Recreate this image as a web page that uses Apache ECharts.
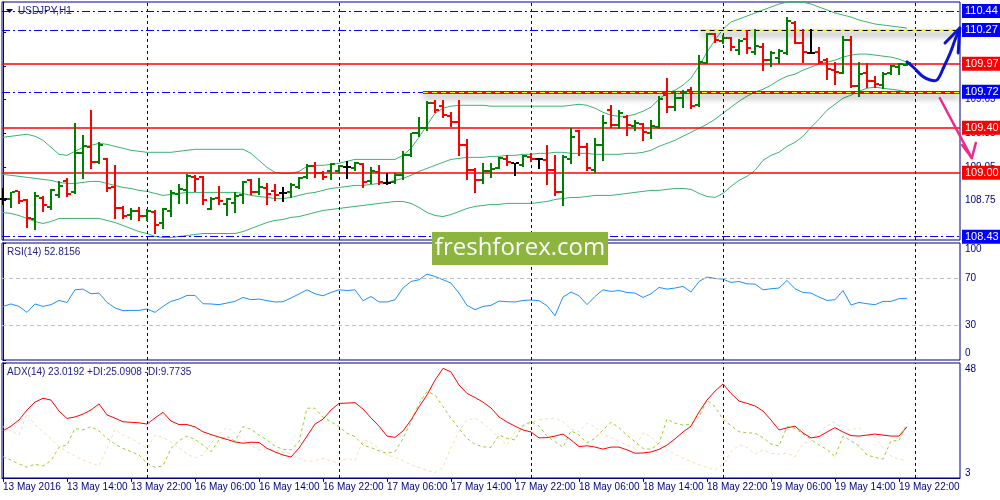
<!DOCTYPE html>
<html><head><meta charset="utf-8">
<script src="https://cdn.jsdelivr.net/npm/echarts@6/dist/echarts.min.js"></script>
<style>html,body{margin:0;padding:0;background:#fff}#c{width:1000px;height:500px}</style>
</head><body><div id="c"></div>
<script>
// ---------------- data ----------------
const tickIndex = [0,8,16,24,32,40,48,56,64,72,80,88,96,104,112];
const tickLabels = ['13 May 2016','13 May 14:00','13 May 22:00','16 May 06:00','16 May 14:00','16 May 22:00','17 May 06:00','17 May 14:00','17 May 22:00','18 May 06:00','18 May 14:00','18 May 22:00','19 May 06:00','19 May 14:00','19 May 22:00'];
const daySeparators = [18,42,66,90,114];

const open = [108.761,108.761,108.833,108.752,108.583,108.770,108.690,108.797,108.922,108.824,
109.172,109.226,109.092,109.118,108.868,108.681,108.627,108.654,108.618,108.645,
108.547,108.654,108.806,108.842,108.958,108.958,108.672,108.770,108.717,108.726,
108.797,108.931,108.824,108.859,108.833,108.815,108.824,108.868,108.958,109.056,
108.993,109.011,109.011,109.047,109.038,109.074,108.922,109.002,108.904,108.913,
108.976,109.154,109.351,109.395,109.618,109.592,109.502,109.449,109.243,109.020,
108.931,109.011,109.038,109.118,109.083,109.065,109.136,109.118,109.109,109.020,
108.824,109.118,109.368,109.226,109.020,109.243,109.556,109.422,109.493,109.413,
109.431,109.351,109.404,109.690,109.583,109.663,109.734,109.600,109.975,110.234,
110.172,110.199,110.092,110.190,110.074,110.118,110.002,110.020,110.065,110.333,
110.154,110.065,110.074,110.002,109.913,109.886,110.181,109.770,109.886,109.815,
109.779,109.886,109.940,109.958];
const high = [108.859,108.824,108.833,108.761,108.824,108.788,108.851,108.922,108.949,109.440,
109.333,109.556,109.270,109.127,109.065,108.699,108.681,108.690,108.672,108.663,
108.681,108.842,108.895,108.984,108.976,108.967,108.779,108.877,108.770,108.824,
108.922,108.940,108.949,108.904,108.895,108.868,108.904,108.958,109.074,109.092,
109.011,109.083,109.065,109.101,109.092,109.083,109.047,109.065,108.993,108.993,
109.190,109.351,109.493,109.636,109.645,109.645,109.538,109.645,109.297,109.038,
109.083,109.083,109.136,109.154,109.083,109.154,109.172,109.127,109.243,109.154,
109.154,109.395,109.377,109.261,109.306,109.511,109.600,109.556,109.511,109.467,
109.440,109.467,109.681,109.842,109.717,109.734,109.761,110.047,110.243,110.243,
110.226,110.208,110.190,110.270,110.279,110.154,110.083,110.101,110.386,110.351,
110.279,110.279,110.118,110.020,109.984,110.217,110.217,109.984,109.975,109.859,
109.895,109.958,109.975,109.975];
const low = [108.717,108.690,108.734,108.520,108.502,108.654,108.672,108.779,108.788,108.815,
108.949,109.038,109.083,108.833,108.592,108.592,108.583,108.574,108.574,108.458,
108.511,108.618,108.726,108.734,108.833,108.717,108.672,108.717,108.627,108.645,
108.734,108.806,108.806,108.717,108.752,108.743,108.779,108.859,108.949,108.958,
108.940,108.940,109.002,108.949,109.020,108.868,108.904,108.895,108.895,108.904,
108.940,109.145,109.324,109.377,109.538,109.493,109.413,109.154,108.940,108.824,
108.904,108.958,109.038,109.065,108.976,109.056,109.101,109.038,108.895,108.797,
108.708,109.083,109.154,109.020,109.002,109.109,109.404,109.395,109.333,109.377,
109.288,109.306,109.395,109.538,109.556,109.583,109.574,109.592,109.975,110.163,
110.154,110.092,110.056,110.065,110.056,109.913,109.949,109.975,110.056,110.154,
109.984,110.065,109.975,109.833,109.788,109.886,109.761,109.681,109.761,109.761,
109.752,109.877,109.877,109.958];
const close = [108.761,108.824,108.743,108.592,108.788,108.708,108.842,108.877,108.806,109.172,
109.234,109.092,109.243,108.859,108.681,108.618,108.654,108.618,108.654,108.538,
108.672,108.815,108.851,108.967,108.940,108.752,108.761,108.743,108.761,108.788,
108.913,108.824,108.868,108.806,108.797,108.815,108.886,108.949,109.056,108.993,
108.958,109.074,109.056,109.047,109.083,108.913,109.011,108.913,108.904,108.976,
109.154,109.351,109.395,109.618,109.556,109.511,109.449,109.243,109.020,108.931,
109.011,109.029,109.127,109.092,109.083,109.145,109.118,109.118,109.020,108.824,
109.136,109.315,109.226,109.038,109.243,109.440,109.422,109.529,109.422,109.440,
109.359,109.413,109.654,109.583,109.663,109.717,109.592,109.984,110.234,110.181,
110.199,110.118,110.172,110.109,110.127,110.002,110.065,110.083,110.351,110.154,
110.074,110.065,109.984,109.922,109.895,110.181,109.770,109.877,109.815,109.788,
109.877,109.949,109.967,109.975];

const bbUpper = [109.315,109.324,109.333,109.342,109.324,109.288,109.226,109.163,109.154,109.190,
109.226,109.243,109.261,109.252,109.234,109.217,109.199,109.190,109.181,109.181,
109.181,109.181,109.190,109.199,109.208,109.208,109.208,109.208,109.208,109.208,
109.208,109.172,109.109,109.047,109.002,108.993,108.993,109.011,109.056,109.065,
109.065,109.074,109.083,109.101,109.118,109.118,109.118,109.118,109.118,109.118,
109.154,109.217,109.315,109.422,109.529,109.574,109.592,109.600,109.600,109.600,
109.600,109.592,109.592,109.592,109.592,109.592,109.592,109.592,109.592,109.592,
109.592,109.600,109.609,109.600,109.574,109.538,109.511,109.502,109.502,109.520,
109.547,109.583,109.654,109.708,109.734,109.779,109.842,109.949,110.074,110.181,
110.279,110.342,110.368,110.395,110.422,110.449,110.475,110.502,110.518,110.518,
110.518,110.502,110.475,110.449,110.422,110.404,110.386,110.359,110.342,110.324,
110.315,110.306,110.297,110.288];
const bbMiddle = [108.984,108.976,108.967,108.958,108.949,108.940,108.931,108.913,108.904,108.904,
108.913,108.922,108.922,108.904,108.886,108.868,108.859,108.842,108.833,108.815,
108.797,108.806,108.815,108.824,108.824,108.824,108.824,108.824,108.824,108.824,
108.815,108.797,108.788,108.779,108.770,108.770,108.779,108.797,108.815,108.824,
108.842,108.859,108.868,108.877,108.886,108.886,108.895,108.904,108.913,108.931,
108.949,108.976,109.011,109.038,109.065,109.092,109.118,109.127,109.136,109.136,
109.136,109.145,109.145,109.154,109.154,109.163,109.163,109.172,109.172,109.181,
109.181,109.172,109.172,109.172,109.163,109.163,109.163,109.163,109.172,109.172,
109.181,109.199,109.234,109.261,109.288,109.324,109.359,109.395,109.431,109.475,
109.529,109.583,109.636,109.681,109.717,109.743,109.779,109.824,109.859,109.877,
109.913,109.940,109.967,109.984,110.002,110.029,110.047,110.056,110.056,110.047,
110.038,110.029,110.011,109.984];
const bbLower = [108.645,108.636,108.618,108.592,108.565,108.547,108.565,108.592,108.592,108.592,
108.592,108.592,108.592,108.574,108.556,108.529,108.502,108.475,108.458,108.431,
108.422,108.422,108.431,108.440,108.449,108.458,108.458,108.458,108.458,108.458,
108.475,108.502,108.529,108.556,108.574,108.583,108.601,108.609,108.627,108.645,
108.663,108.672,108.681,108.690,108.699,108.708,108.717,108.726,108.734,108.743,
108.743,108.726,108.690,108.645,108.618,108.609,108.627,108.654,108.681,108.699,
108.708,108.717,108.717,108.726,108.726,108.726,108.726,108.734,108.743,108.761,
108.770,108.779,108.779,108.788,108.797,108.797,108.797,108.806,108.815,108.824,
108.833,108.842,108.842,108.851,108.859,108.859,108.851,108.815,108.788,108.779,
108.815,108.877,108.931,108.967,109.020,109.109,109.154,109.181,109.234,109.270,
109.324,109.404,109.475,109.556,109.609,109.663,109.690,109.725,109.752,109.761,
109.752,109.743,109.734,109.717];

const rsi = [45.8,47.9,45.8,40.7,47.9,45.8,47.3,50.9,49.2,60.0,
60.6,56.6,57.2,49.2,44.5,42.2,42.4,42.4,43.6,40.7,
45.8,50.1,52.1,55.2,55.2,48.1,47.9,47.3,48.7,50.1,
53.5,51.5,52.1,50.7,49.6,49.8,53.0,56.4,60.0,56.6,
54.9,57.7,60.0,59.4,60.0,50.7,54.3,49.6,49.6,51.5,
61.5,67.1,68.6,73.4,71.4,68.6,65.7,57.2,46.7,43.0,
45.8,46.7,50.4,49.8,49.6,50.9,51.3,50.7,46.4,37.9,
53.8,58.1,54.9,47.3,54.3,60.0,58.6,59.4,57.7,57.2,
53.5,56.6,62.0,60.6,61.5,62.9,58.1,67.1,70.9,69.7,
69.1,66.3,67.1,65.1,64.9,60.0,60.9,61.5,68.0,60.9,
57.7,57.2,53.8,50.9,51.5,59.4,47.0,49.2,48.1,47.3,
50.1,50.1,52.4,52.8156];
const adx = [21.5,23.3,25.7,29.6,32.7,34.2,33.5,29.2,26.3,26.9,
28.0,29.6,32.0,27.7,26.4,25.0,24.8,24.6,24.1,26.5,
28.7,25.3,23.9,23.9,23.0,21.1,20.0,19.0,18.1,17.1,
16.6,17.0,16.9,14.6,13.2,12.0,11.2,14.7,19.4,24.1,
26.0,29.6,32.2,32.3,32.5,30.0,26.5,23.3,19.4,18.9,
21.4,25.7,30.8,35.5,41.3,45.9,44.5,39.4,36.1,34.5,
32.7,30.4,26.9,24.9,23.3,21.8,21.0,18.7,18.8,19.4,
20.2,17.9,15.3,15.6,15.1,14.3,15.1,15.1,14.0,12.7,
12.8,13.2,14.2,15.9,18.3,21.0,23.3,28.8,33.5,37.0,
39.8,36.1,33.1,32.2,31.2,29.2,25.7,21.8,22.6,23.3,
20.6,18.7,19.2,21.0,22.7,21.0,19.6,19.4,19.8,20.2,
19.8,19.4,19.4,23.0192];
const plusDI = [11.3,10.0,8.5,7.2,8.4,7.7,9.8,15.0,15.9,22.4,
21.8,23.1,21.4,18.5,16.3,14.6,13.3,12.0,8.8,7.2,
7.7,14.6,17.6,19.4,18.1,15.9,13.3,17.9,19.2,17.5,
23.1,22.1,19.8,17.9,15.5,14.2,14.0,17.2,30.3,30.3,
26.8,25.0,23.1,20.5,19.2,15.9,14.9,13.6,12.7,13.3,
18.5,25.0,32.2,36.8,35.5,30.9,26.4,22.4,18.5,16.2,
15.2,15.0,19.8,18.5,17.9,23.7,25.0,23.3,19.4,17.2,
15.0,21.5,19.8,16.8,18.5,21.8,24.8,22.7,19.7,17.2,
14.6,14.2,16.6,26.1,24.4,23.7,24.1,27.0,33.5,30.9,
26.0,23.5,21.1,20.7,20.5,18.8,16.3,15.5,23.1,22.4,
20.2,18.1,15.9,14.2,11.3,19.4,17.6,15.5,12.0,11.1,
10.4,17.6,17.6,24.3];
const minusDI = [23.1,21.5,19.8,28.0,23.7,21.1,18.5,15.2,13.3,11.6,
10.0,8.8,7.7,14.6,22.1,19.8,18.5,16.6,14.6,19.8,
18.9,17.0,14.9,12.4,10.9,12.0,16.6,20.2,22.8,20.5,
18.1,15.9,14.0,14.3,14.0,13.2,12.4,10.7,9.4,9.8,
10.7,9.7,8.8,10.7,9.8,17.9,17.0,14.6,12.0,11.1,
9.8,8.1,7.2,5.9,5.1,7.2,15.2,21.1,25.7,26.4,
24.4,21.8,18.7,15.9,21.1,23.1,24.6,25.7,26.2,26.4,
25.0,22.2,21.1,24.4,23.1,19.8,18.8,17.2,15.9,14.6,
20.7,19.2,15.9,14.0,12.4,10.7,9.4,8.1,7.2,6.1,
8.1,13.3,15.9,15.0,12.4,14.0,12.7,12.3,12.7,11.3,
16.6,17.2,21.1,23.5,25.0,21.8,21.8,22.7,19.8,18.8,
15.0,11.6,10.4,9.7735];

const levels = [110.44, 110.27, 109.97, 109.72, 109.40, 109.00, 108.43];
const levelKinds = ['blue','blue','red','blue','red','red','blue'];
const zoneStarts = [87.2, 52.5];          // bar index where the highlighted zones begin
const zonePrices = [110.27, 109.72];
const priceTicks = [108.75, 109.05, 109.35, 109.65, 109.95, 110.25];
const rsiTicks = [0, 30, 70, 100];
const rsiLevels = [70, 30];
const adxTicks = [3, 48];

const forecastUp = [[113,109.986],[113.9,109.932],[114.9,109.861],[115.9,109.825],[116.75,109.825],[117.6,109.941],[118.4,110.066],[119.0,110.181],[119.6,110.288]];
const forecastUpHead = [[117.75,110.155],[119.6,110.288],[119.4,110.066]];
const forecastDown = [[117.1,109.665],[121.1,109.130]];
const forecastDownHead = [[119.9,109.246],[121.1,109.130],[121.6,109.264]];

// ---------------- styling ----------------
const NAVY = '#000080';
const FONT = '"Liberation Sans", Arial, sans-serif';
const UP = '#008000', DOWN = '#ff0000', FLAT = '#000000';
const BB = '#3cb371';
const X_MIN = -0.125, X_MAX = 119.625;
const DASHDOT = [8, 3, 2, 3];
const levelColor = {blue: '#0000ff', red: '#ff0000'};

const annotationPaths = [forecastUp, forecastUpHead, forecastDown, forecastDownHead];
const annotationStyles = [
  {color: '#0a14d8', width: 3, smooth: 0.35},
  {color: '#0a14d8', width: 3, smooth: 0},
  {color: '#f0288c', width: 2.5, smooth: 0},
  {color: '#f0288c', width: 2.5, smooth: 0}
];

const pairs = a => a.map((v, i) => [i, v]);
const ohlc = open.map((o, i) => [i, o, high[i], low[i], close[i]]);

function renderBar(params, api) {
  const i = api.value(0), o = api.value(1), h = api.value(2), l = api.value(3), c = api.value(4);
  const pH = api.coord([i, h]), pL = api.coord([i, l]), pO = api.coord([i, o]), pC = api.coord([i, c]);
  const col = c > o ? UP : (c < o ? DOWN : FLAT);
  const x = Math.round(pH[0]);
  const yH = Math.round(pH[1]), yL = Math.round(pL[1]), yO = Math.round(pO[1]), yC = Math.round(pC[1]);
  return {type: 'group', children: [
    {type: 'rect', shape: {x: x - 1, y: yH, width: 2, height: Math.max(1, yL - yH + 1)}, style: {fill: col}},
    {type: 'rect', shape: {x: x - 4, y: yO - 1, width: 3, height: 2}, style: {fill: col}},
    {type: 'rect', shape: {x: x + 1, y: yC - 1, width: 3, height: 2}, style: {fill: col}}
  ]};
}

function renderAnnotation(params, api) {
  const k = params.dataIndex;
  const pts = annotationPaths[k].map(p => api.coord(p));
  const s = annotationStyles[k];
  return {type: 'polyline', shape: {points: pts, smooth: s.smooth},
          style: {stroke: s.color, lineWidth: s.width, fill: null, lineCap: 'round', lineJoin: 'round'}};
}

const sepStyle = {color: NAVY, type: [3, 3], width: 1};
const sepLines = daySeparators.map(v => ({xAxis: v}));

const levelData = levels.map((p, k) => {
  const kind = levelKinds[k];
  const col = levelColor[kind];
  return {
    yAxis: p,
    lineStyle: {color: col, width: kind === 'blue' ? 1 : 1.5, type: kind === 'blue' ? DASHDOT : 'solid', opacity: 1},
    label: {show: true, position: 'end', distance: 2, formatter: p.toFixed(2), color: '#fff',
            backgroundColor: col, padding: [2, 3, 1, 3], fontSize: 11, fontFamily: FONT}
  };
});
const zoneBase = ['#ffff00', '#ff0000'];
const zoneDash = ['#000000', '#ffff00'];
const zoneData = [];
zoneStarts.forEach((s, k) => {
  const base = {color: zoneBase[k], width: 3, type: 'solid', shadowColor: 'rgba(0,0,0,0.4)', shadowBlur: 6, shadowOffsetY: 4};
  zoneData.push([{coord: [s, zonePrices[k]], lineStyle: base, label: {show: false}}, {coord: [X_MAX, zonePrices[k]], lineStyle: base}]);
  const d = {color: zoneDash[k], width: 1, type: [5, 4]};
  zoneData.push([{coord: [s, zonePrices[k]], lineStyle: d, label: {show: false}}, {coord: [X_MAX, zonePrices[k]], lineStyle: d}]);
});

function xAxisFor(k) {
  const base = {type: 'value', gridIndex: k, min: X_MIN, max: X_MAX, splitLine: {show: false}};
  if (k < 2) return Object.assign(base, {axisLine: {show: false}, axisTick: {show: false}, axisLabel: {show: false}});
  return Object.assign(base, {
    axisLine: {show: true, onZero: false, lineStyle: {color: NAVY}},
    axisTick: {show: true, customValues: tickIndex, length: 4, lineStyle: {color: NAVY}},
    axisLabel: {customValues: tickIndex, align: 'left', margin: 4, color: NAVY, fontSize: 10, fontFamily: FONT,
                formatter: v => tickLabels[tickIndex.indexOf(v)] || ''}
  });
}

const richEdge = {
  t: {padding: [12, 0, 0, 0], color: NAVY, fontSize: 10, fontFamily: FONT},
  b: {padding: [0, 0, 13, 0], color: NAVY, fontSize: 10, fontFamily: FONT},
  b2: {padding: [0, 0, 10, 0], color: NAVY, fontSize: 10, fontFamily: FONT}
};

const option = {
  animation: false,
  backgroundColor: '#ffffff',
  grid: [
    {left: 2, top: 2, width: 958, height: 238, show: true, borderColor: NAVY, borderWidth: 1},
    {left: 2, top: 243, width: 958, height: 117, show: true, borderColor: NAVY, borderWidth: 1},
    {left: 2, top: 363, width: 958, height: 115, show: true, borderColor: NAVY, borderWidth: 1}
  ],
  xAxis: [xAxisFor(0), xAxisFor(1), xAxisFor(2)],
  yAxis: [
    {type: 'value', gridIndex: 0, position: 'right', min: 108.40, max: 110.52, splitLine: {show: false},
     axisLine: {show: true, lineStyle: {color: NAVY}},
     axisTick: {show: true, customValues: priceTicks, length: 3, lineStyle: {color: NAVY}},
     axisLabel: {customValues: priceTicks, formatter: v => v.toFixed(2), color: NAVY, fontSize: 10, fontFamily: FONT, margin: 5}},
    {type: 'value', gridIndex: 1, position: 'right', min: 0, max: 100, splitLine: {show: false},
     axisLine: {show: true, lineStyle: {color: NAVY}},
     axisTick: {show: true, customValues: rsiTicks, length: 3, lineStyle: {color: NAVY}},
     axisLabel: {customValues: rsiTicks, color: NAVY, fontSize: 10, fontFamily: FONT, margin: 5, rich: richEdge,
                 formatter: v => v === rsiTicks[rsiTicks.length - 1] ? '{t|' + v + '}' : (v === rsiTicks[0] ? '{b|' + v + '}' : String(v))}},
    {type: 'value', gridIndex: 2, position: 'right', min: 3, max: 48, splitLine: {show: false},
     axisLine: {show: true, lineStyle: {color: NAVY}},
     axisTick: {show: true, customValues: adxTicks, length: 3, lineStyle: {color: NAVY}},
     axisLabel: {customValues: adxTicks, color: NAVY, fontSize: 10, fontFamily: FONT, margin: 5, rich: richEdge,
                 formatter: v => v === adxTicks[1] ? '{t|' + v + '}' : '{b2|' + v + '}'}}
  ],
  series: [
    {type: 'line', xAxisIndex: 0, yAxisIndex: 0, data: pairs(bbUpper), symbol: 'none', silent: true, z: 2,
     lineStyle: {color: BB, width: 1},
     markLine: {silent: true, symbol: 'none', label: {show: false}, lineStyle: sepStyle, data: sepLines}},
    {type: 'line', xAxisIndex: 0, yAxisIndex: 0, data: pairs(bbMiddle), symbol: 'none', silent: true, z: 2,
     lineStyle: {color: BB, width: 1},
     markLine: {silent: true, symbol: 'none', data: levelData}},
    {type: 'line', xAxisIndex: 0, yAxisIndex: 0, data: pairs(bbLower), symbol: 'none', silent: true, z: 2,
     lineStyle: {color: BB, width: 1},
     markLine: {silent: true, symbol: 'none', label: {show: false}, data: zoneData}},
    {type: 'custom', xAxisIndex: 0, yAxisIndex: 0, data: ohlc, renderItem: renderBar, silent: true, z: 5,
     encode: {x: 0, y: [1, 2, 3, 4]}},
    {type: 'custom', xAxisIndex: 0, yAxisIndex: 0, data: annotationPaths.map(p => p[0]), renderItem: renderAnnotation,
     clip: false, silent: true, z: 9, encode: {x: 0, y: 1}},
    {type: 'line', xAxisIndex: 1, yAxisIndex: 1, data: pairs(rsi), symbol: 'none', silent: true, z: 3,
     lineStyle: {color: '#1e90ff', width: 1},
     markLine: {silent: true, symbol: 'none', label: {show: false},
       data: rsiLevels.map(v => ({yAxis: v, lineStyle: {color: '#c0c0c0', type: [4, 3], width: 1}}))
             .concat(sepLines.map(s => Object.assign({lineStyle: sepStyle}, s)))}},
    {type: 'line', xAxisIndex: 2, yAxisIndex: 2, data: pairs(minusDI), symbol: 'none', silent: true, z: 2,
     lineStyle: {color: '#f5deb3', width: 1, type: [3, 3]}},
    {type: 'line', xAxisIndex: 2, yAxisIndex: 2, data: pairs(plusDI), symbol: 'none', silent: true, z: 3,
     lineStyle: {color: '#9acd32', width: 1, type: [3, 3]}},
    {type: 'line', xAxisIndex: 2, yAxisIndex: 2, data: pairs(adx), symbol: 'none', silent: true, z: 4,
     lineStyle: {color: '#ff0000', width: 1},
     markLine: {silent: true, symbol: 'none', label: {show: false}, lineStyle: sepStyle, data: sepLines}}
  ],
  graphic: [
    {type: 'polygon', shape: {points: [[6, 9], [13, 9], [9.5, 13]]}, style: {fill: NAVY}, z: 50},
    {type: 'text', x: 18, y: 11, style: {text: 'USDJPY,H1', fill: '#20208a', font: '10px ' + FONT, verticalAlign: 'middle'}, z: 50},
    {type: 'text', x: 7, y: 252, style: {text: 'RSI(14) ' + rsi[rsi.length - 1].toFixed(4), fill: '#20208a', font: '10px ' + FONT, verticalAlign: 'middle'}, z: 50},
    {type: 'text', x: 7, y: 372, style: {text: 'ADX(14) ' + adx[adx.length - 1].toFixed(4) + ' +DI:25.0908 -DI:' + minusDI[minusDI.length - 1].toFixed(4), fill: '#20208a', font: '10px ' + FONT, verticalAlign: 'middle'}, z: 50},
    {type: 'rect', shape: {x: 432, y: 232, width: 176, height: 33}, style: {fill: '#8cb43e'}, z: 60},
    {type: 'text', x: 520, y: 248, style: {text: 'freshforex.com', fill: '#ffffff', font: '24px "Open Sans", sans-serif', align: 'center', verticalAlign: 'middle'}, z: 61}
  ]
};

const chart = echarts.init(document.getElementById('c'), null, {renderer: 'canvas'});
chart.setOption(option);
</script>
</body></html>
